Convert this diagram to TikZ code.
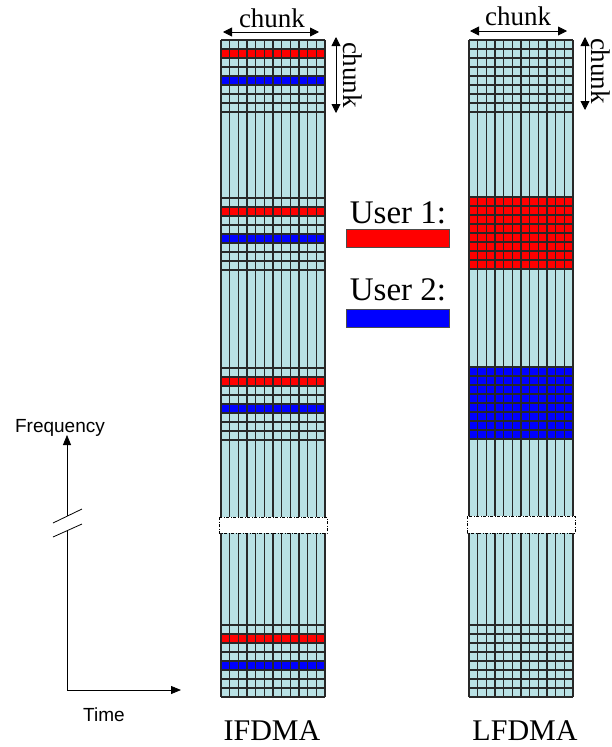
\documentclass[tikz,border=0pt]{standalone}
\usepackage{fontspec}
\setmainfont{Liberation Serif}
\setsansfont{Liberation Sans}
\usetikzlibrary{arrows.meta}
\definecolor{cellcyan}{RGB}{185,225,228}
\definecolor{gridgray}{RGB}{40,40,40}

\begin{document}
\begin{tikzpicture}[x=1pt,y=-1pt,
  gridline/.style={draw=gridgray,line width=1.1pt},
  dim/.style={{Triangle[length=9pt,width=9pt]}-{Triangle[length=9pt,width=9pt]},line width=0.9pt},
  axis/.style={-{Triangle[length=10pt,width=8pt]},line width=0.8pt},
  breakbox/.style={draw=black,fill=white,line width=0.6pt,dash pattern=on 3pt off 1.5pt on 1pt off 1.5pt},
  lbl/.style={font=\fontsize{30}{30}\selectfont,inner sep=0pt},
  chunklbl/.style={font=\fontsize{27}{27}\selectfont,inner sep=0pt},
  userbar/.style={draw=black!70,minimum width=103pt,minimum height=18pt,inner sep=0pt}]
  \useasboundingbox (0,0) rectangle (612,747);
  % IFDMA
  \fill[cellcyan] (221,40) rectangle (325,697);
  \foreach \y in {40,198,368,625}{
    \fill[red] (221,\y+9) rectangle (325,\y+18);
    \fill[blue] (221,\y+36) rectangle (325,\y+45);
    \foreach \r in {0,...,8} \draw[gridline] (221,\y+\r*9) -- (325,\y+\r*9);
  }
  \foreach \c in {0,...,12} \draw[gridline] (221+\c*104/12,40) -- (221+\c*104/12,697);
  \draw[breakbox] (219,517) rectangle (327,533);
  % LFDMA
  \fill[cellcyan] (469,40) rectangle (573,697);
  \fill[red] (469,197) rectangle (573,269);
  \fill[blue] (469,367) rectangle (573,439);
  \foreach \y in {40,197,367,625}
    \foreach \r in {0,...,8} \draw[gridline] (469,\y+\r*9) -- (573,\y+\r*9);
  \foreach \c in {0,...,12} \draw[gridline] (469+\c*104/12,40) -- (469+\c*104/12,697);
  \draw[breakbox] (467,516) rectangle (575,533);
  % chunk sizes
  \coordinate (ifl) at (223,32);
  \coordinate (ifr) at (319,32);
  \coordinate (ift) at (336,37);
  \coordinate (ifb) at (336,113);
  \coordinate (lfl) at (470,31);
  \coordinate (lfr) at (567,31);
  \coordinate (lft) at (585,37);
  \coordinate (lfb) at (585,110);
  \draw[dim] (ifl) -- (ifr);
  \draw[dim] (ift) -- (ifb);
  \draw[dim] (lfl) -- (lfr);
  \draw[dim] (lft) -- (lfb);
  \node[chunklbl,anchor=base] (ifchunkw) at (272,27) {chunk};
  \node[chunklbl,anchor=base,rotate=-90] (ifchunkh) at (343,75) {chunk};
  \node[chunklbl,anchor=base] (lfchunkw) at (518,25) {chunk};
  \node[chunklbl,anchor=base,rotate=-90] (lfchunkh) at (591,71) {chunk};
  % users
  \node[lbl,anchor=base,font=\fontsize{33}{33}\selectfont] (user1) at (398,223) {User 1:};
  \node[userbar,fill=red] (user1bar) at (397.5,238) {};
  \node[lbl,anchor=base,font=\fontsize{33}{33}\selectfont] (user2) at (398,300) {User 2:};
  \node[userbar,fill=blue] (user2bar) at (397.5,318) {};
  \node[lbl,anchor=base] (ifdma) at (272,740) {IFDMA};
  \node[lbl,anchor=base] (lfdma) at (525,740) {LFDMA};
  % axes
  \coordinate (origin) at (67,690);
  \coordinate (freqtip) at (67,435);
  \coordinate (timetip) at (181,690);
  \coordinate (breaklo) at (67,531);
  \coordinate (breakhi) at (67,516);
  \draw[line width=0.8pt] (origin) -- (breaklo);
  \draw[axis] (breakhi) -- (freqtip);
  \draw[axis] (origin) -- (timetip);
  \draw[line width=0.8pt] (53,523) -- (82,509);
  \draw[line width=0.8pt] (53,537) -- (82,524);
  \node[font=\sffamily\fontsize{19}{19}\selectfont,anchor=base,inner sep=0pt] (freq) at (60,432) {Frequency};
  \node[font=\sffamily\fontsize{19}{19}\selectfont,anchor=base,inner sep=0pt] (time) at (104,721) {Time};
\end{tikzpicture}
\end{document}
